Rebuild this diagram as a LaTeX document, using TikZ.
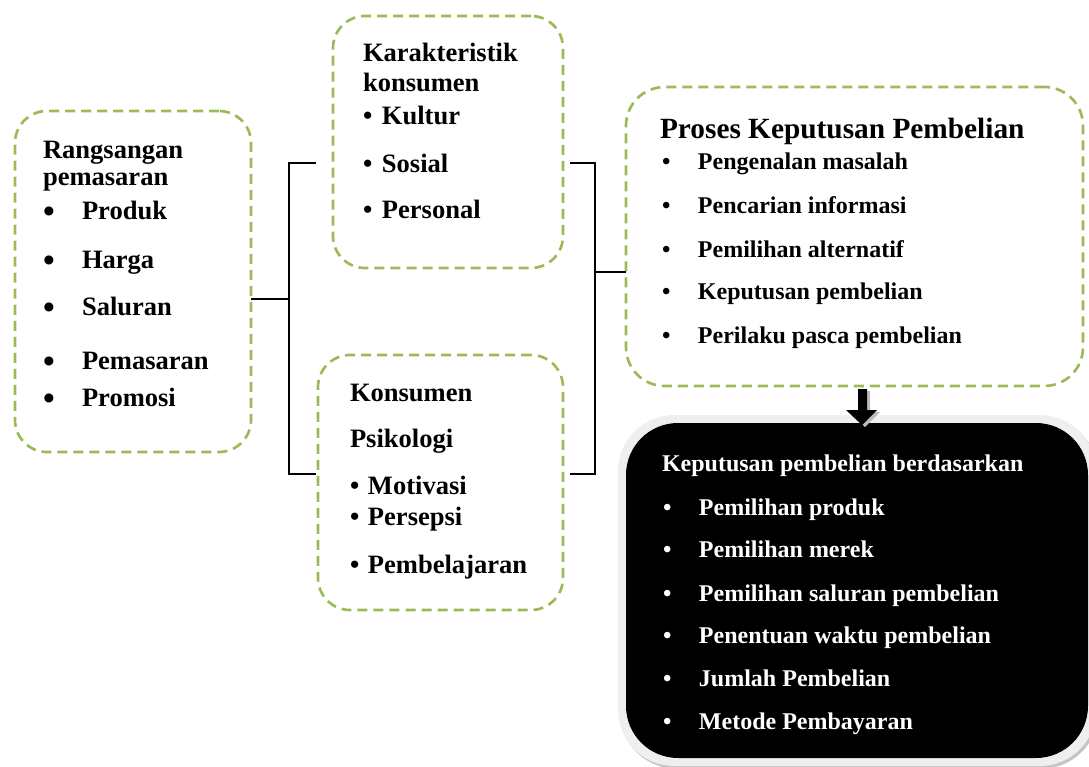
\documentclass[tikz,border=0pt]{standalone}
\usepackage{fontspec}
\setmainfont{Liberation Serif}
\definecolor{dgreen}{HTML}{9BBB59}
\definecolor{lgrey}{HTML}{EFEFEF}
\definecolor{sgrey}{HTML}{C4C4C4}
\newcommand\mybul[1]{\makebox[#1][l]{•}}
\newcommand\mybigbul[1]{\makebox[#1][l]{\raisebox{-2.5pt}{\fontsize{25}{25}\selectfont •}}}
\begin{document}
\begin{tikzpicture}[x=0.75pt,y=-0.75pt,
  dbox/.style={draw=dgreen, line width=2pt, dash pattern=on 7.5pt off 4.5pt, rounded corners=24pt, inner sep=0pt, outer sep=0pt},
  txt/.style={anchor=base west, inner sep=0pt, outer sep=0pt},
  fa/.style={font=\fontsize{19.9}{24}\selectfont\bfseries},
  fb/.style={font=\fontsize{22}{26}\selectfont\bfseries},
  fc/.style={font=\fontsize{18}{22}\selectfont\bfseries},
  link/.style={line width=1pt, black}]
\useasboundingbox (0,0) rectangle (1089,767);

% dashed boxes
\node[dbox, minimum width=177pt, minimum height=255.75pt] (b1) at (133,281.5) {};
\node[dbox, minimum width=172.5pt, minimum height=189pt] (b2) at (448,142) {};
\node[dbox, minimum width=183.75pt, minimum height=191.25pt] (b3) at (440.5,482.5) {};
\node[dbox, minimum width=342.75pt, minimum height=224.25pt, rounded corners=29pt] (b4) at (854.5,236.5) {};

% black box with border and shadow
\node[fill=sgrey, rounded corners=42pt, minimum width=358.5pt, minimum height=263.25pt, inner sep=0pt] (b5s) at (859,593) {};
\node[fill=lgrey, rounded corners=42pt, minimum width=358.5pt, minimum height=263.25pt, inner sep=0pt] (b5o) at (857,590.5) {};
\node[fill=black, rounded corners=39pt, minimum width=346.5pt, minimum height=251.25pt, inner sep=0pt, outer sep=0pt] (b5) at (857,590.5) {};

% brackets
\coordinate (lt) at (289,163);
\coordinate (lb) at (289,474);
\coordinate (lm) at (289,299);
\coordinate (lt1) at (316,163);
\coordinate (lb1) at (316,474);
\draw[link] (lt1) -- (lt) -- (lb) -- (lb1);
\draw[link] (b1.east |- lm) -- (lm);
\coordinate (rt) at (595,163);
\coordinate (rb) at (595,474);
\coordinate (rm) at (595,272);
\coordinate (rt1) at (570,163);
\coordinate (rb1) at (570,474);
\draw[link] (rt1) -- (rt) -- (rb) -- (rb1);
\draw[link] (rm) -- (b4.west |- rm);

% block arrow
\fill[gray!55, shift={(3,2)}] (858,389) -- (867,389) -- (867,410) -- (877,410) -- (862,425) -- (846,410) -- (858,410) -- cycle;
\fill[black] (858,389) -- (867,389) -- (867,410) -- (877,410) -- (862,425) -- (846,410) -- (858,410) -- cycle;

% box 1 text
\node[txt, fa] (t1a) at (43,158) {Rangsangan};
\node[txt, fa] (t1b) at (43,185) {pemasaran};
\node[txt, fa] (t1c) at (43,219) {\mybigbul{29.25pt}Produk};
\node[txt, fa] (t1d) at (43,268) {\mybigbul{29.25pt}Harga};
\node[txt, fa] (t1e) at (43,315) {\mybigbul{29.25pt}Saluran};
\node[txt, fa] (t1f) at (43,369) {\mybigbul{29.25pt}Pemasaran};
\node[txt, fa] (t1g) at (43,406) {\mybigbul{29.25pt}Promosi};

% box 2 text
\node[txt, fa] (t2a) at (363,62) {Karakteristik};
\node[txt, fa] (t2b) at (363,92) {konsumen};
\node[txt, fa] (t2c) at (363,124) {\mybul{14.25pt}Kultur};
\node[txt, fa] (t2d) at (363,172) {\mybul{14.25pt}Sosial};
\node[txt, fa] (t2e) at (363,218) {\mybul{14.25pt}Personal};

% box 3 text
\node[txt, fa] (t3a) at (350,401) {Konsumen};
\node[txt, fa] (t3b) at (350,447) {Psikologi};
\node[txt, fa] (t3c) at (350,494) {\mybul{13.5pt}Motivasi};
\node[txt, fa] (t3d) at (350,525) {\mybul{13.5pt}Persepsi};
\node[txt, fa] (t3e) at (350,573) {\mybul{13.5pt}Pembelajaran};

% box 4 text
\node[txt, fb] (t4a) at (660,138) {Proses Keputusan Pembelian};
\node[txt, fc] (t4b) at (662,169) {\mybul{27pt}Pengenalan masalah};
\node[txt, fc] (t4c) at (662,213) {\mybul{27pt}Pencarian informasi};
\node[txt, fc] (t4d) at (662,257) {\mybul{27pt}Pemilihan alternatif};
\node[txt, fc] (t4e) at (662,299) {\mybul{27pt}Keputusan pembelian};
\node[txt, fc] (t4f) at (662,343) {\mybul{27pt}Perilaku pasca pembelian};

% box 5 text
\node[txt, fc, text=white] (t5a) at (662,471) {Keputusan pembelian berdasarkan};
\node[txt, fc, text=white] (t5b) at (663,515) {\mybul{27pt}Pemilihan produk};
\node[txt, fc, text=white] (t5c) at (663,557) {\mybul{27pt}Pemilihan merek};
\node[txt, fc, text=white] (t5d) at (663,601) {\mybul{27pt}Pemilihan saluran pembelian};
\node[txt, fc, text=white] (t5e) at (663,643) {\mybul{27pt}Penentuan waktu pembelian};
\node[txt, fc, text=white] (t5f) at (663,686) {\mybul{27pt}Jumlah Pembelian};
\node[txt, fc, text=white] (t5g) at (663,729) {\mybul{27pt}Metode Pembayaran};
\end{tikzpicture}
\end{document}
